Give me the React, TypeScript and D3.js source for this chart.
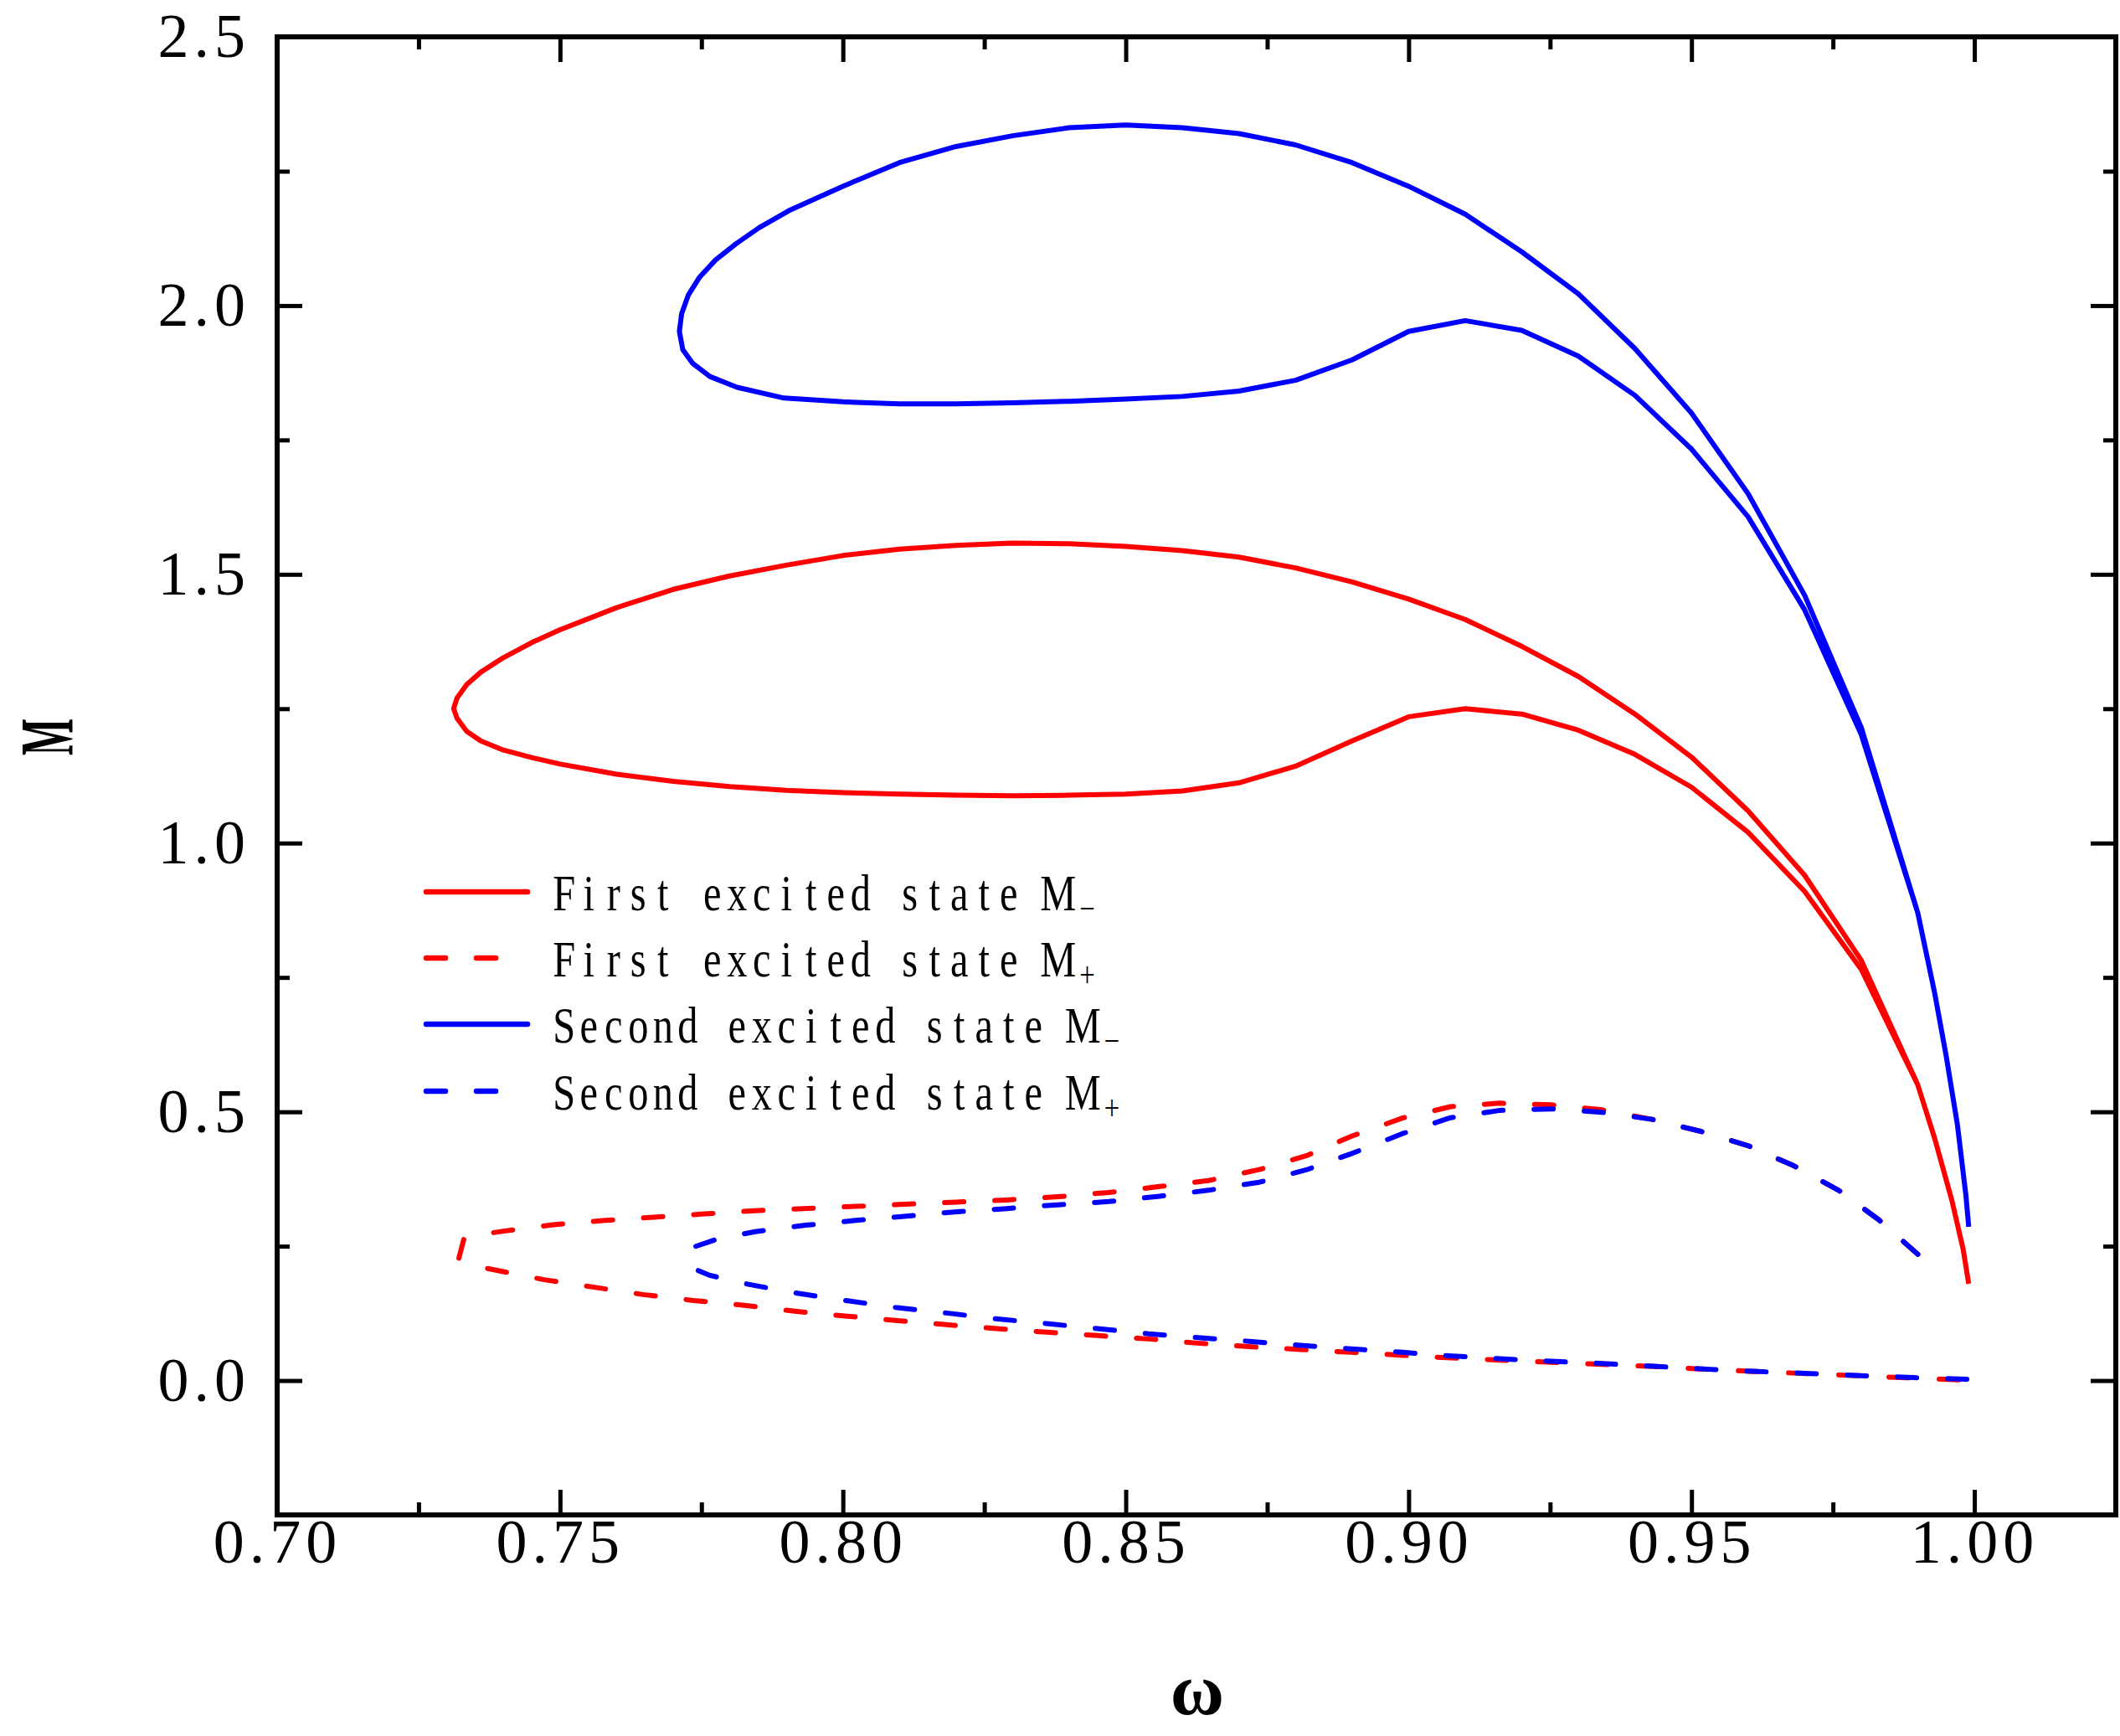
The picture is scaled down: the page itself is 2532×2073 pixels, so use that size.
// @ts-nocheck
import * as d3 from "d3";
import { useEffect, useRef } from "react";

const W = 2532;
const H = 2073;
const margin = { top: 44, right: 5, bottom: 264, left: 331 };

// omega, M
const firstMinus: [number, number][] = [
  [0.999, 0.18], [0.998, 0.245], [0.996, 0.336], [0.993, 0.45], [0.99, 0.55],
  [0.98, 0.782], [0.97, 0.94], [0.96, 1.06], [0.95, 1.16], [0.94, 1.24], [0.93, 1.31],
  [0.92, 1.366], [0.91, 1.416], [0.9, 1.454], [0.89, 1.486], [0.88, 1.512], [0.87, 1.532],
  [0.86, 1.544], [0.85, 1.552], [0.84, 1.557], [0.83, 1.558], [0.82, 1.554], [0.81, 1.547],
  [0.8, 1.535], [0.79, 1.517], [0.78, 1.497], [0.77, 1.472], [0.76, 1.438], [0.75, 1.397],
  [0.745, 1.373], [0.74, 1.345], [0.736, 1.318], [0.7335, 1.295], [0.7318, 1.27],
  [0.7312, 1.25], [0.7318, 1.232], [0.7335, 1.208], [0.736, 1.19], [0.74, 1.173],
  [0.745, 1.159], [0.75, 1.147], [0.76, 1.128],
  [0.77, 1.115], [0.78, 1.105], [0.79, 1.098], [0.8, 1.094], [0.81, 1.091], [0.82, 1.089],
  [0.83, 1.088], [0.84, 1.089], [0.85, 1.091], [0.86, 1.097], [0.87, 1.112], [0.88, 1.143],
  [0.89, 1.19], [0.9, 1.235], [0.91, 1.25], [0.92, 1.24], [0.93, 1.21], [0.94, 1.165],
  [0.95, 1.104], [0.96, 1.02], [0.97, 0.91], [0.98, 0.765], [0.99, 0.55],
];

const firstPlus: [number, number][] = [
  [0.99, 0.235], [0.983, 0.3], [0.976, 0.354], [0.968, 0.4], [0.96, 0.437], [0.9515, 0.464],
  [0.943, 0.486], [0.934, 0.504], [0.925, 0.513], [0.916, 0.516], [0.9074, 0.5095],
  [0.899, 0.4887], [0.89, 0.455], [0.882, 0.4186], [0.8736, 0.3926], [0.8646, 0.372],
  [0.856, 0.361], [0.847, 0.35], [0.838, 0.342], [0.829, 0.336], [0.82, 0.332], [0.811, 0.328],
  [0.802, 0.324], [0.793, 0.32], [0.7845, 0.316], [0.7755, 0.31], [0.7666, 0.304],
  [0.7576, 0.2976], [0.7488, 0.29], [0.74, 0.278], [0.735, 0.27], [0.733, 0.263],
  [0.7321, 0.227], [0.736, 0.211], [0.747, 0.188], [0.7558, 0.174], [0.7647, 0.16],
  [0.7736, 0.149], [0.7826, 0.14], [0.7915, 0.129], [0.8004, 0.12], [0.8093, 0.112],
  [0.8183, 0.104], [0.8271, 0.0966], [0.836, 0.09], [0.845, 0.0837], [0.854, 0.0774],
  [0.8627, 0.0696], [0.8718, 0.063], [0.8809, 0.0577], [0.8899, 0.0525], [0.899, 0.047],
  [0.9076, 0.042], [0.9162, 0.038], [0.9253, 0.034], [0.9343, 0.03], [0.9434, 0.026],
  [0.9525, 0.021], [0.961, 0.017], [0.9701, 0.013], [0.9792, 0.009], [0.9882, 0.005],
  [1.0, 0.0],
];

const secondMinus: [number, number][] = [
  [0.999, 0.286], [0.9985, 0.345], [0.997, 0.476], [0.995, 0.605], [0.993, 0.72], [0.99, 0.87],
  [0.98, 1.215], [0.97, 1.461], [0.96, 1.65], [0.95, 1.8], [0.94, 1.92], [0.93, 2.022],
  [0.92, 2.1], [0.91, 2.17], [0.9, 2.222], [0.89, 2.266], [0.88, 2.299], [0.87, 2.32],
  [0.86, 2.331], [0.85, 2.336], [0.84, 2.331], [0.83, 2.316], [0.82, 2.296], [0.81, 2.266],
  [0.8, 2.222], [0.7907, 2.178], [0.7852, 2.145], [0.7811, 2.115], [0.7775, 2.085],
  [0.7746, 2.052], [0.7727, 2.02], [0.7715, 1.985], [0.7711, 1.952], [0.7717, 1.918],
  [0.7734, 1.893], [0.7765, 1.868], [0.7813, 1.848], [0.7896, 1.828], [0.8, 1.821],
  [0.81, 1.817], [0.82, 1.817], [0.83, 1.819],
  [0.84, 1.822], [0.85, 1.826], [0.86, 1.831], [0.87, 1.841], [0.88, 1.861], [0.89, 1.899],
  [0.9, 1.952], [0.91, 1.972], [0.92, 1.954], [0.93, 1.906], [0.94, 1.833], [0.95, 1.733],
  [0.96, 1.607], [0.97, 1.434], [0.98, 1.202], [0.99, 0.87],
];

const secondPlus: [number, number][] = [
  [0.99, 0.235], [0.983, 0.3], [0.976, 0.354], [0.968, 0.4], [0.96, 0.437], [0.9515, 0.464],
  [0.943, 0.486], [0.9342, 0.499], [0.9253, 0.5054], [0.9162, 0.5027], [0.9074, 0.489],
  [0.8988, 0.459], [0.8901, 0.423], [0.8819, 0.392], [0.8736, 0.369], [0.8646, 0.354],
  [0.856, 0.343], [0.847, 0.333], [0.838, 0.327], [0.829, 0.32], [0.8202, 0.314],
  [0.8112, 0.306], [0.8023, 0.298], [0.7934, 0.289], [0.7845, 0.277], [0.7777, 0.263],
  [0.7738, 0.249], [0.773, 0.211], [0.7764, 0.196], [0.7833, 0.179], [0.7922, 0.162],
  [0.8011, 0.148], [0.8093, 0.136], [0.8183, 0.1257], [0.827, 0.115], [0.836, 0.106],
  [0.845, 0.0966], [0.854, 0.087], [0.8627, 0.08], [0.8718, 0.073], [0.8809, 0.0655],
  [0.8899, 0.059], [0.899, 0.0525], [0.9076, 0.0458], [0.9162, 0.0405], [0.9253, 0.0358],
  [0.9343, 0.0317], [0.9434, 0.0265], [0.9525, 0.0213], [0.961, 0.0171], [0.9701, 0.0135],
  [0.9792, 0.0094], [0.9882, 0.0058], [1.0, 0.002],
];

const xMajor = [0.7, 0.75, 0.8, 0.85, 0.9, 0.95, 1.0];
const xMinor = [0.725, 0.775, 0.825, 0.875, 0.925, 0.975];
const yMajor = [0, 0.5, 1.0, 1.5, 2.0, 2.5];
const yMinor = [0.25, 0.75, 1.25, 1.75, 2.25];

const legendLabels = ["First excited state M", "First excited state M", "Second excited state M", "Second excited state M"];
const legendSubs = ["\u2212", "+", "\u2212", "+"];

const series = [
  { data: firstMinus, color: "#ff0000", dashed: false },
  { data: firstPlus, color: "#ff0000", dashed: true },
  { data: secondMinus, color: "#0000ff", dashed: false },
  { data: secondPlus, color: "#0000ff", dashed: true },
];

const FONT = "'Liberation Serif', 'Times New Roman', serif";
const DASH = "23,37";

// legend text is set as a fixed-pitch, slightly condensed serif
const CELL = 29.5;
const SQUEEZE = 0.78;

export default function App() {
  const gBottom = useRef(null);
  const gLeft = useRef(null);
  const gTop = useRef(null);
  const gRight = useRef(null);

  const x = d3.scaleLinear([0.7, 1.025], [margin.left, W - margin.right]);
  const y = d3.scaleLinear([-0.25, 2.5], [H - margin.bottom, margin.top]);

  const line = d3.line<[number, number]>()
    .x(d => x(d[0]))
    .y(d => y(d[1]));

  useEffect(() => {
    const style = (g, labels) => {
      g.select(".domain").remove();
      g.selectAll(".tick line").attr("stroke", "#000").attr("stroke-width", 5);
      g.attr("font-family", FONT).attr("font-size", 74);
      g.selectAll(".tick text").attr("fill", "#000").attr("letter-spacing", labels ? 6 : 0);
    };

    const b = d3.select(gBottom.current);
    b.selectAll("*").remove();
    b.append("g").call(d3.axisBottom(x).tickValues(xMajor).tickSize(-30).tickPadding(4).tickFormat(d3.format(".2f")))
      .call(g => style(g, true));
    b.append("g").call(d3.axisBottom(x).tickValues(xMinor).tickSize(-15).tickFormat(""))
      .call(g => style(g, false));

    const t = d3.select(gTop.current);
    t.selectAll("*").remove();
    t.append("g").call(d3.axisTop(x).tickValues(xMajor).tickSize(-30).tickFormat("")).call(g => style(g, false));
    t.append("g").call(d3.axisTop(x).tickValues(xMinor).tickSize(-15).tickFormat("")).call(g => style(g, false));

    const l = d3.select(gLeft.current);
    l.selectAll("*").remove();
    l.append("g").call(d3.axisLeft(y).tickValues(yMajor).tickSize(-30).tickPadding(32).tickFormat(d3.format(".1f")))
      .call(g => style(g, true));
    l.append("g").call(d3.axisLeft(y).tickValues(yMinor).tickSize(-15).tickFormat("")).call(g => style(g, false));

    const r = d3.select(gRight.current);
    r.selectAll("*").remove();
    r.append("g").call(d3.axisRight(y).tickValues(yMajor).tickSize(-30).tickFormat("")).call(g => style(g, false));
    r.append("g").call(d3.axisRight(y).tickValues(yMinor).tickSize(-15).tickFormat("")).call(g => style(g, false));
  }, []);

  const legendY = [1065, 1144, 1223, 1303];

  return (
    <svg width={W} height={H} style={{ position: "absolute", left: 0, top: 0, background: "#fff" }}>
      <rect x={0} y={0} width={W} height={H} fill="#fff" />
      <g>
        {series.map((s, i) => (
          <path
            key={i}
            d={line(s.data)}
            fill="none"
            stroke={s.color}
            strokeWidth={6}
            strokeLinejoin="round"
            strokeLinecap={s.dashed ? "round" : "butt"}
            strokeDasharray={s.dashed ? DASH : null}
          />
        ))}
      </g>

      <g ref={gBottom} transform={`translate(0,${H - margin.bottom})`} />
      <g ref={gTop} transform={`translate(0,${margin.top})`} />
      <g ref={gLeft} transform={`translate(${margin.left},0)`} />
      <g ref={gRight} transform={`translate(${W - margin.right},0)`} />

      <rect
        x={margin.left}
        y={margin.top}
        width={W - margin.right - margin.left}
        height={H - margin.bottom - margin.top}
        fill="none"
        stroke="#000"
        strokeWidth={6}
      />

      {/* legend */}
      <g fontFamily={FONT}>
        {series.map((s, i) => {
          const label = legendLabels[i];
          const xs = Array.from(label, (_, k) => ((k + 0.5) * CELL) / SQUEEZE).join(" ");
          const subX = (label.length * CELL + 20) / SQUEEZE;
          return (
            <g key={i}>
              <line
                x1={509} x2={s.dashed ? 600 : 630}
                y1={legendY[i]} y2={legendY[i]}
                stroke={s.color}
                strokeWidth={6.5}
                strokeLinecap="round"
                strokeDasharray={s.dashed ? DASH : null}
              />
              <g transform={`translate(659,${legendY[i] + 22}) scale(${SQUEEZE},1)`}>
                <text x={xs} y={0} textAnchor="middle" fontSize={62} fill="#000">
                  {label}
                </text>
                <text x={subX} y={12} textAnchor="middle" fontSize={42} fill="#000">
                  {legendSubs[i]}
                </text>
              </g>
            </g>
          );
        })}
      </g>

      <text
        transform="translate(87,880) rotate(-90) scale(0.52,1)"
        textAnchor="middle"
        fontFamily={FONT}
        fontWeight="bold"
        fontSize={90}
      >M</text>
      <text x={1430} y={2047} textAnchor="middle" fontFamily={FONT} fontWeight="bold" fontSize={88}>ω</text>
    </svg>
  );
}
